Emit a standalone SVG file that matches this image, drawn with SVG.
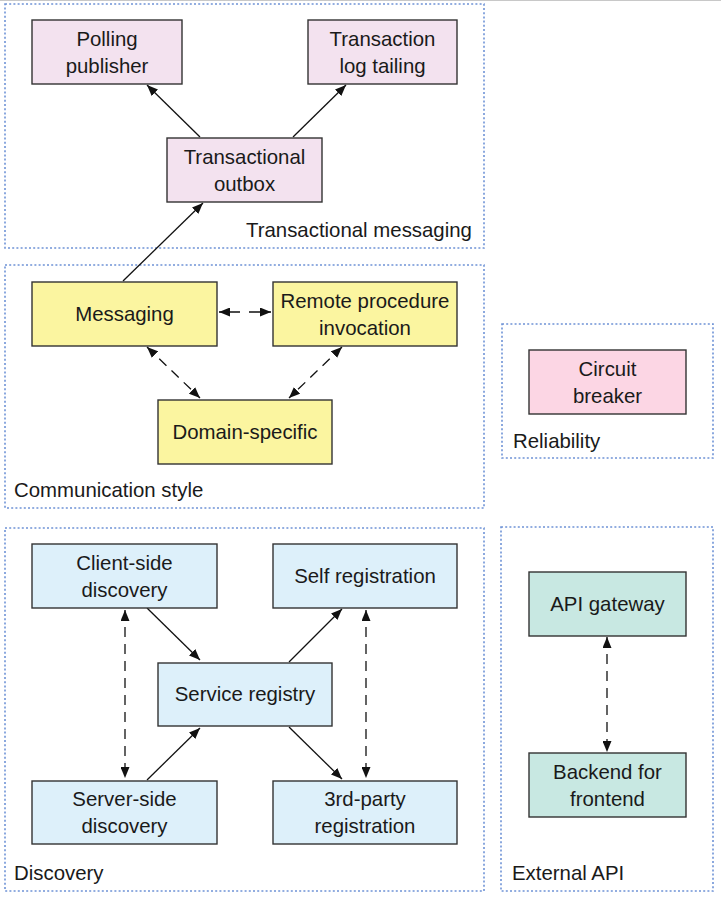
<svg xmlns="http://www.w3.org/2000/svg" width="721" height="898" viewBox="0 0 721 898">
<defs>
<marker id="ah" markerUnits="userSpaceOnUse" markerWidth="11" markerHeight="9" refX="11" refY="4.5" orient="auto-start-reverse" viewBox="0 0 11 9">
<path d="M0,0 L11,4.5 L0,9 z" fill="#111"/>
</marker>
<style>
text{font-family:"Liberation Sans",Arial,sans-serif;font-size:20.4px;fill:#1a1a1a}
.c{text-anchor:middle}
.grp{fill:none;stroke:#6f93d6;stroke-width:1.6;stroke-dasharray:2 2.2}
.n{stroke:#333;stroke-width:1.4}
.pink{fill:#f3e2ef}
.rose{fill:#fcd6e4}
.yel{fill:#fbf5a0}
.blue{fill:#ddf0fa}
.teal{fill:#c8e8e2}
.e{fill:none;stroke:#111;stroke-width:1.3}
.d{stroke-dasharray:10 7}
</style>
</defs>
<rect width="721" height="898" fill="#fff"/>
<line x1="0" y1="0.5" x2="721" y2="0.5" stroke="#c8c8c8" stroke-width="1"/>

<g id="groups">
<g id="g-transactional-messaging"><rect class="grp" x="5" y="4" width="479" height="244"/><text x="246" y="237">Transactional messaging</text></g>
<g id="g-communication-style"><rect class="grp" x="5" y="265" width="479" height="243"/><text x="14" y="497">Communication style</text></g>
<g id="g-reliability"><rect class="grp" x="502" y="324" width="211" height="134"/><text x="513" y="448">Reliability</text></g>
<g id="g-discovery"><rect class="grp" x="5" y="528" width="479" height="363"/><text x="14" y="880">Discovery</text></g>
<g id="g-external-api"><rect class="grp" x="501" y="527" width="212" height="364"/><text x="512" y="880">External API</text></g>
</g>

<g id="connectors">
<line class="e" x1="200" y1="137" x2="147" y2="85" marker-end="url(#ah)"/>
<line class="e" x1="293" y1="137" x2="346" y2="85" marker-end="url(#ah)"/>
<line class="e" x1="123" y1="281" x2="203" y2="203" marker-end="url(#ah)"/>
<line class="e" x1="219" y1="312" x2="271" y2="312" marker-start="url(#ah)" marker-end="url(#ah)" style="stroke-dasharray:21 9 30"/>
<line class="e d" x1="147" y1="347" x2="200" y2="398" marker-start="url(#ah)" marker-end="url(#ah)"/>
<line class="e d" x1="342" y1="347" x2="289" y2="398" marker-start="url(#ah)" marker-end="url(#ah)"/>
<line class="e" x1="147" y1="608" x2="200" y2="660" marker-end="url(#ah)"/>
<line class="e" x1="289" y1="662" x2="342" y2="609" marker-end="url(#ah)"/>
<line class="e" x1="147" y1="780" x2="200" y2="728" marker-end="url(#ah)"/>
<line class="e" x1="289" y1="727" x2="342" y2="779" marker-end="url(#ah)"/>
<line class="e d" x1="125" y1="610" x2="125" y2="778" marker-start="url(#ah)" marker-end="url(#ah)"/>
<line class="e d" x1="366" y1="610" x2="366" y2="778" marker-start="url(#ah)" marker-end="url(#ah)"/>
<line class="e d" x1="607" y1="637" x2="607" y2="752" marker-start="url(#ah)" marker-end="url(#ah)"/>
</g>

<g id="polling-publisher"><rect class="n pink" x="32" y="20" width="150" height="64"/><text class="c" x="107" y="46">Polling</text><text class="c" x="107" y="73">publisher</text></g>
<g id="transaction-log-tailing"><rect class="n pink" x="308" y="20" width="149" height="64"/><text class="c" x="382.5" y="46">Transaction</text><text class="c" x="382.5" y="73">log tailing</text></g>
<g id="transactional-outbox"><rect class="n pink" x="167" y="138" width="155" height="64"/><text class="c" x="244.5" y="164">Transactional</text><text class="c" x="244.5" y="191">outbox</text></g>

<g id="messaging"><rect class="n yel" x="32" y="282" width="185" height="64"/><text class="c" x="124.5" y="321">Messaging</text></g>
<g id="remote-procedure-invocation"><rect class="n yel" x="273" y="282" width="184" height="64"/><text class="c" x="365" y="308">Remote procedure</text><text class="c" x="365" y="335">invocation</text></g>
<g id="domain-specific"><rect class="n yel" x="158" y="400" width="174" height="64"/><text class="c" x="245" y="439">Domain-specific</text></g>

<g id="circuit-breaker"><rect class="n rose" x="529" y="350" width="157" height="64"/><text class="c" x="607.5" y="376">Circuit</text><text class="c" x="607.5" y="403">breaker</text></g>

<g id="client-side-discovery"><rect class="n blue" x="32" y="544" width="185" height="64"/><text class="c" x="124.5" y="570">Client-side</text><text class="c" x="124.5" y="597">discovery</text></g>
<g id="self-registration"><rect class="n blue" x="273" y="544" width="184" height="64"/><text class="c" x="365" y="583">Self registration</text></g>
<g id="service-registry"><rect class="n blue" x="158" y="663" width="174" height="63"/><text class="c" x="245" y="701">Service registry</text></g>
<g id="server-side-discovery"><rect class="n blue" x="32" y="781" width="185" height="63"/><text class="c" x="124.5" y="806">Server-side</text><text class="c" x="124.5" y="833">discovery</text></g>
<g id="third-party-registration"><rect class="n blue" x="273" y="781" width="184" height="63"/><text class="c" x="365" y="806">3rd-party</text><text class="c" x="365" y="833">registration</text></g>

<g id="api-gateway"><rect class="n teal" x="529" y="572" width="157" height="64"/><text class="c" x="607.5" y="611">API gateway</text></g>
<g id="backend-for-frontend"><rect class="n teal" x="529" y="753" width="157" height="64"/><text class="c" x="607.5" y="779">Backend for</text><text class="c" x="607.5" y="806">frontend</text></g>
</svg>
